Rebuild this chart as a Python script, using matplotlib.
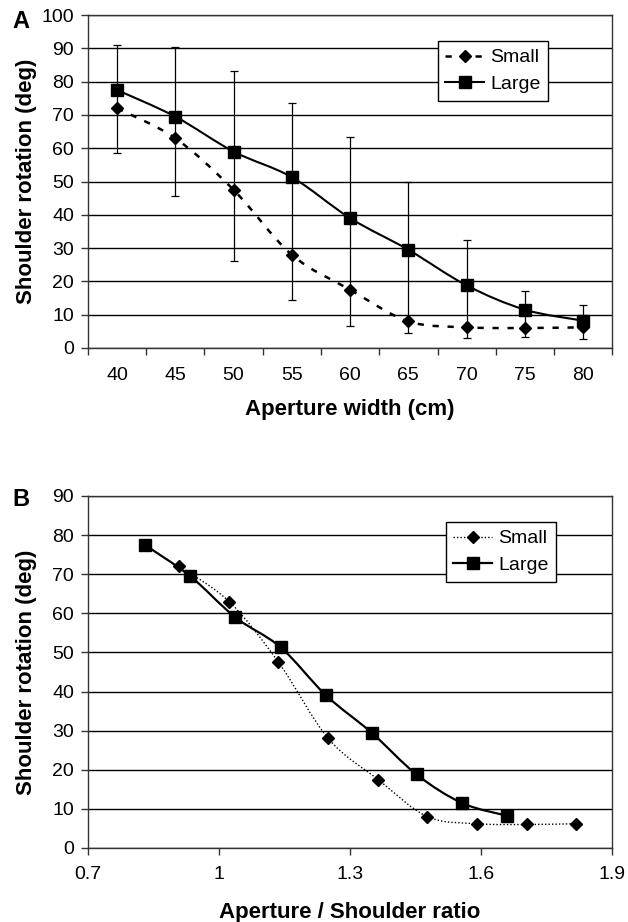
import numpy as np
import matplotlib
matplotlib.use("Agg")
import matplotlib.pyplot as plt
from matplotlib.path import Path
from matplotlib.patches import PathPatch
from matplotlib.lines import Line2D

plt.rcParams['font.family'] = ['Liberation Sans', 'DejaVu Sans']

# panel A: rotation vs aperture width
widths = [40, 45, 50, 55, 60, 65, 70, 75, 80]
small_rot = [72.0, 63.0, 47.5, 28.0, 17.5, 8.0, 6.2, 6.0, 6.2]
large_rot = [77.5, 69.5, 59.0, 51.3, 39.0, 29.5, 18.8, 11.5, 8.2]
small_sd = [13.5, 17.3, 21.5, 13.5, 11.0, 3.5, 3.2, 2.7, 3.5]    # lower bars
large_sd = [13.5, 20.8, 24.3, 22.4, 24.5, 20.3, 13.5, 5.7, 4.8]  # upper bars

# panel B: rotation vs aperture / shoulder ratio
small_ratio = [0.909, 1.023, 1.136, 1.250, 1.364, 1.477, 1.591, 1.705, 1.818]
large_ratio = [0.830, 0.934, 1.037, 1.141, 1.245, 1.349, 1.452, 1.556, 1.660]


def smooth_path(x, y):
    # excel style smoothed line: cubic bezier through the points
    p = np.column_stack([x, y]).astype(float)
    n = len(p)
    verts = [p[0]]
    codes = [Path.MOVETO]
    for i in range(n - 1):
        p0 = p[i - 1] if i > 0 else p[i]
        p3 = p[i + 2] if i + 2 < n else p[i + 1]
        c1 = p[i] + (p[i + 1] - p0) / 6.0
        c2 = p[i + 1] - (p3 - p[i]) / 6.0
        verts += [c1, c2, p[i + 1]]
        codes += [Path.CURVE4] * 3
    return Path(verts, codes)


def add_curve(ax, x, y, **kw):
    ax.add_patch(PathPatch(smooth_path(x, y), facecolor='none',
                           edgecolor='black', capstyle='butt', **kw))


def style_axes(ax):
    ax.yaxis.grid(True, color='black', linewidth=1.0)
    ax.set_axisbelow(True)
    for s in ax.spines.values():
        s.set_color('#333333')
        s.set_linewidth(1.0)
    ax.tick_params(direction='out', length=5, width=1, labelsize=14,
                   color='#333333', pad=5)


fig = plt.figure(figsize=(6.28, 9.22), dpi=100)

# ---------------- panel A ----------------
axA = fig.add_axes([0.140, 0.6226, 0.835, 0.361])
pos = np.arange(len(widths))
add_curve(axA, pos, small_rot, linestyle=(0, (2.5, 3.5)), linewidth=1.8, zorder=3)
add_curve(axA, pos, large_rot, linestyle='-', linewidth=1.5, zorder=3)

lo = np.array(small_rot) - np.array(small_sd)
axA.errorbar(pos, large_rot,
             yerr=[np.array(large_rot) - lo, np.array(large_sd)],
             fmt='none', ecolor='black', elinewidth=0.9, capsize=3,
             capthick=0.9, zorder=2)

axA.plot(pos, small_rot, 'D', color='black', ms=6, zorder=4)
axA.plot(pos, large_rot, 's', color='black', ms=8, zorder=4)

axA.set_xlim(-0.5, len(widths) - 0.5)
axA.set_ylim(0, 100)
axA.set_yticks(np.arange(0, 101, 10))
axA.set_xticks(np.arange(-0.5, len(widths), 1.0))
axA.set_xticklabels([])
axA.set_xticks(pos, minor=True)
axA.set_xticklabels([str(w) for w in widths], minor=True)
style_axes(axA)
axA.tick_params(axis='x', which='minor', length=0, labelsize=14, pad=14)
axA.set_xlabel('Aperture width (cm)', fontsize=16, fontweight='bold',
               va='center')
axA.xaxis.set_label_coords(0.5, -0.186)
axA.set_ylabel('Shoulder rotation (deg)', fontsize=16, fontweight='bold',
               va='center')
axA.yaxis.set_label_coords(-0.118, 0.5)

hA = [Line2D([], [], color='black', linestyle=(0, (2.5, 3.5)), lw=1.8,
             marker='D', ms=6),
      Line2D([], [], color='black', linestyle='-', lw=1.5, marker='s', ms=8)]
legA = axA.legend(hA, ['Small', 'Large'], loc='upper right',
                  bbox_to_anchor=(0.878, 0.922), fontsize=14, frameon=True,
                  fancybox=False, edgecolor='black', framealpha=1,
                  handlelength=2.0, handletextpad=0.3, borderpad=0.4,
                  labelspacing=0.45, borderaxespad=0)
legA.get_frame().set_linewidth(1.0)
fig.text(0.020, 0.989, 'A', fontsize=17, fontweight='bold', va='top')

# ---------------- panel B ----------------
axB = fig.add_axes([0.140, 0.0803, 0.835, 0.3818])
add_curve(axB, small_ratio, small_rot, linestyle=(0, (1, 1.5)), linewidth=1.0, zorder=3)
add_curve(axB, large_ratio, large_rot, linestyle='-', linewidth=1.6, zorder=3)
axB.plot(small_ratio, small_rot, 'D', color='black', ms=6, zorder=4)
axB.plot(large_ratio, large_rot, 's', color='black', ms=8, zorder=4)

axB.set_xlim(0.7, 1.9)
axB.set_ylim(0, 90)
axB.set_yticks(np.arange(0, 91, 10))
axB.set_xticks([0.7, 1.0, 1.3, 1.6, 1.9])
axB.set_xticklabels(['0.7', '1', '1.3', '1.6', '1.9'])
style_axes(axB)
axB.tick_params(axis='x', pad=8)
axB.set_xlabel('Aperture / Shoulder ratio', fontsize=16, fontweight='bold',
               va='center')
axB.xaxis.set_label_coords(0.5, -0.182)
axB.set_ylabel('Shoulder rotation (deg)', fontsize=16, fontweight='bold',
               va='center')
axB.yaxis.set_label_coords(-0.118, 0.5)

hB = [Line2D([], [], color='black', linestyle=(0, (1, 1.5)), lw=1.0,
             marker='D', ms=6),
      Line2D([], [], color='black', linestyle='-', lw=1.6, marker='s', ms=8)]
legB = axB.legend(hB, ['Small', 'Large'], loc='upper right',
                  bbox_to_anchor=(0.893, 0.926), fontsize=14, frameon=True,
                  fancybox=False, edgecolor='black', framealpha=1,
                  handlelength=2.0, handletextpad=0.3, borderpad=0.4,
                  labelspacing=0.45, borderaxespad=0)
legB.get_frame().set_linewidth(1.0)
fig.text(0.020, 0.471, 'B', fontsize=17, fontweight='bold', va='top')

fig.savefig('out.png', dpi=100, facecolor='white')
